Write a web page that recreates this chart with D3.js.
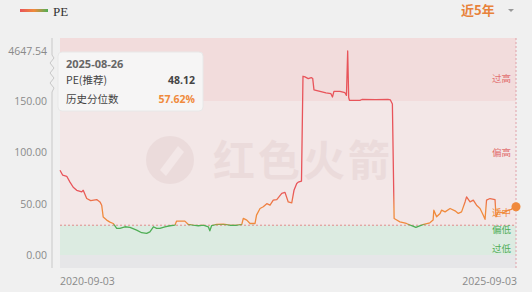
<!DOCTYPE html>
<html><head><meta charset="utf-8">
<script src="https://cdn.jsdelivr.net/npm/d3@7/dist/d3.min.js"></script>
<style>
html,body{margin:0;padding:0;background:#f0f0f0;}
svg{display:block;font-family:"Open Sans","Noto Sans","Noto Sans CJK SC",sans-serif;}
</style></head>
<body>
<svg id="chart" width="532" height="292"></svg>
<script>
// ---- data ----
const dates = [
"2020-09-03","2020-09-14","2020-09-30","2020-10-13","2020-10-26","2020-11-09","2020-11-29","2020-12-05","2020-12-19","2021-01-04",
"2021-01-28","2021-02-10","2021-02-17","2021-02-23","2021-03-09","2021-03-22","2021-04-04","2021-04-18","2021-05-01","2021-05-21",
"2021-06-10","2021-07-07","2021-07-27","2021-08-16","2021-08-29","2021-09-12","2021-09-25","2021-10-08","2021-10-28","2021-11-17",
"2021-12-07","2021-12-14","2022-01-16","2022-01-30","2022-02-19","2022-03-11","2022-03-31","2022-04-20","2022-04-26","2022-05-03",
"2022-05-23","2022-06-19","2022-07-16","2022-08-11","2022-09-01","2022-09-07","2022-09-21","2022-10-04","2022-10-24","2022-10-30",
"2022-11-13","2022-11-26","2022-12-10","2022-12-23","2023-01-05","2023-01-19","2023-02-08","2023-02-21","2023-03-06","2023-03-20",
"2023-03-29","2023-04-09","2023-04-15","2023-04-28","2023-05-04","2023-05-12","2023-05-25","2023-06-06","2023-06-12","2023-06-17",
"2023-07-07","2023-08-04","2023-08-24","2023-08-30","2023-09-05","2023-09-29","2023-10-19","2023-10-25","2023-10-30","2023-11-03",
"2023-11-06","2023-12-18","2023-12-26","2024-02-19","2024-04-08","2024-04-18","2024-04-26","2024-05-03","2024-05-10","2024-05-26",
"2024-06-21","2024-07-17","2024-07-29","2024-08-26","2024-09-23","2024-10-06","2024-10-09","2024-10-20","2024-11-03","2024-11-09",
"2024-11-23","2024-12-13","2025-01-02","2025-01-15","2025-01-28","2025-02-11","2025-02-17","2025-03-03","2025-03-16","2025-03-29",
"2025-04-12","2025-04-25","2025-05-02","2025-05-08","2025-05-22","2025-06-11","2025-06-15","2025-06-24","2025-07-14","2025-08-03",
"2025-08-16","2025-08-26","2025-09-03"
];
const peValues = [
82.5,77.7,76.7,71,66,63,61.5,63,55,53,
54,51.7,48.5,37,34,32,30.7,26,26,27.5,
27,24.3,21.7,21,22.6,27.5,26,26,27.5,28.5,
29,33,33,29.8,29,28.5,29,27.5,23.6,28.5,
29.8,30,29,29,29.8,35.6,34,30.7,30.7,38.8,
45.3,47,50,48.5,53.4,54,60,61,51.7,50.8,
63,69.6,71,72,2376,2313,2167,2258,2167,1150,
1040,877,804,513,1013,1013,895,650,4647.54,468,
214,214,286,268,304,241,147,35.6,34.6,32.3,
30.7,28.2,26.9,29.5,31.4,34,43.7,37.2,40.5,43.7,
42,45.3,43,40.5,42,51.7,56.6,51.7,53.4,48.5,
45.3,38.8,34.7,53.4,55,54,37.2,42,41,43.7,
44.4,48.12,47
];
const yTickValues = [0, 50, 100, 150, 4647.54];
const xTickLabels = ["2020-09-03", "2025-09-03"];
const lowLine = 29;      // dashed threshold
const highLine = 151;    // 过高 band threshold
const zoneNames = ["过高","偏高","适中","偏低","过低"];
const zoneAnchors = [2200, 100, 41, 25, 6];
const tipDate = "2025-08-26";
const tipPE = "48.12";
const tipPct = "57.62%";

(function(){
// ---- layout ----
const svg = d3.select("#chart");
const pL = 60, pR = 516, pT = 38, pB = 268;
const parse = d3.timeParse("%Y-%m-%d");
const data = dates.map((d,i)=>({date:parse(d), v:peValues[i]}));

const x = d3.scaleTime().domain([parse(xTickLabels[0]), parse(xTickLabels[1])]).range([pL, pR]);
const y = d3.scaleLinear().domain([0,150,4647.54]).range([255,101,51]);

const RED="#e8545a", ORANGE="#f08a3c", GREEN="#4fae55";

// bands
svg.append("rect").attr("x",pL).attr("y",pT).attr("width",pR-pL).attr("height",y(highLine)-pT).attr("fill","#f2dcdc");
svg.append("rect").attr("x",pL).attr("y",y(highLine)).attr("width",pR-pL).attr("height",y(lowLine)-y(highLine)).attr("fill","#f3e7e7");
svg.append("rect").attr("x",pL).attr("y",y(lowLine)).attr("width",pR-pL).attr("height",y(0)-y(lowLine)).attr("fill","#dcebe1");
svg.append("rect").attr("x",pL).attr("y",y(0)).attr("width",pR-pL).attr("height",pB-y(0)).attr("fill","#e6e6e8");

// watermark
const wm = svg.append("g").attr("opacity",0.06);
wm.append("circle").attr("cx",170).attr("cy",160).attr("r",24).attr("fill","#7a3030");
wm.append("path").attr("d","M160,170 L178,146 L184,152 L166,176 Z").attr("fill","#f3e7e7");
wm.append("text").attr("x",213).attr("y",176).attr("font-size",42).attr("font-weight","bold")
  .attr("letter-spacing",3).attr("fill","#7a3030").attr("font-family","Noto Sans CJK SC").text("红色火箭");

// dashed lines
svg.append("line").attr("x1",pL).attr("x2",pR).attr("y1",y(lowLine)).attr("y2",y(lowLine))
  .attr("stroke","#e07575").attr("stroke-width",0.8).attr("stroke-dasharray","2,2");
svg.append("line").attr("x1",pR).attr("x2",pR).attr("y1",pT).attr("y2",pB)
  .attr("stroke","#e0a0a8").attr("stroke-width",1).attr("stroke-dasharray","2,2");

// zone labels
const zoneColors = [ "#e27070","#e27070", ORANGE, GREEN, GREEN ];
zoneNames.forEach((n,i)=>{
  svg.append("text").attr("x",511).attr("y",y(zoneAnchors[i])+3.5).attr("text-anchor","end")
    .attr("font-size",9.5).attr("fill",zoneColors[i]).attr("font-family","Noto Sans CJK SC").text(n);
});

// gradient for line
const defs = svg.append("defs");
const g0 = y(0), gTop = y(4647.54);
const off = v => (g0 - y(v))/(g0 - gTop);
const grad = defs.append("linearGradient").attr("id","lineGrad").attr("gradientUnits","userSpaceOnUse")
  .attr("x1",0).attr("x2",0).attr("y1",g0).attr("y2",gTop);
[[0,GREEN],[off(lowLine),GREEN],[off(lowLine+1.5),ORANGE],[off(45),ORANGE],[off(62),RED],[1,RED]]
  .forEach(s=>grad.append("stop").attr("offset",s[0]).attr("stop-color",s[1]));

svg.append("path").datum(data)
  .attr("d", d3.line().x(d=>x(d.date)).y(d=>y(d.v)))
  .attr("fill","none").attr("stroke","url(#lineGrad)").attr("stroke-width",1.3).attr("stroke-linejoin","round");

const last = data[data.length-1];
svg.append("circle").attr("cx",x(last.date)).attr("cy",y(last.v)).attr("r",4.5).attr("fill",ORANGE);

// y axis
const axisG = svg.append("g");
axisG.append("path").attr("fill","none").attr("stroke","#c8c8c8").attr("stroke-width",1)
  .attr("d",`M52,${pT} L52,55 L54,58 L50,63 L54,68 L50,73 L54,78 L50,83 L54,88 L52,92 L52,${pB}`);
yTickValues.forEach(v=>{
  axisG.append("text").attr("x",47).attr("y",y(v)+4).attr("text-anchor","end")
    .attr("font-size",10.5).attr("fill","#8a8a8a").text(v.toFixed(2));
});

// x labels
svg.append("text").attr("x",x(parse(xTickLabels[0]))).attr("y",285).attr("font-size",10.5).attr("fill","#8a8a8a").text(xTickLabels[0]);
svg.append("text").attr("x",x(parse(xTickLabels[1]))+1).attr("y",285).attr("text-anchor","end").attr("font-size",10.5).attr("fill","#8a8a8a").text(xTickLabels[1]);

// legend
const lg = defs.append("linearGradient").attr("id","legGrad");
lg.append("stop").attr("offset",0).attr("stop-color",RED);
lg.append("stop").attr("offset",0.5).attr("stop-color",ORANGE);
lg.append("stop").attr("offset",1).attr("stop-color",GREEN);
svg.append("rect").attr("x",20).attr("y",9).attr("width",28).attr("height",3).attr("fill","url(#legGrad)");
svg.append("text").attr("x",53).attr("y",16).attr("font-size",13).attr("font-family","Liberation Serif, serif").attr("fill","#333").text("PE");

svg.append("text").attr("x",461).attr("y",15).attr("font-size",13).attr("font-weight","bold")
  .attr("fill","#e8823a").attr("font-family","Noto Sans CJK SC").text("近5年");
svg.append("path").attr("d","M508,9 L514,9 L511,12 Z").attr("fill","#999");

// tooltip
const tip = svg.append("g");
tip.append("rect").attr("x",58).attr("y",52).attr("width",145).attr("height",59).attr("rx",4)
  .attr("fill","#f6f6f6").attr("fill-opacity",0.95).attr("stroke","#e8e8e8");
tip.append("text").attr("x",66).attr("y",68).attr("font-size",11).attr("font-weight","bold").attr("fill","#666").text(tipDate);
tip.append("text").attr("x",66).attr("y",84).attr("font-size",10.5).attr("fill","#444").attr("font-family","Noto Sans CJK SC").text("PE(推荐)");
tip.append("text").attr("x",195).attr("y",84).attr("text-anchor","end").attr("font-size",10.5).attr("font-weight","bold").attr("fill","#444").text(tipPE);
tip.append("text").attr("x",66).attr("y",103).attr("font-size",10.5).attr("fill","#444").attr("font-family","Noto Sans CJK SC").text("历史分位数");
tip.append("text").attr("x",195).attr("y",103).attr("text-anchor","end").attr("font-size",10.5).attr("font-weight","bold").attr("fill",ORANGE).text(tipPct);
})();
</script>
</body></html>
